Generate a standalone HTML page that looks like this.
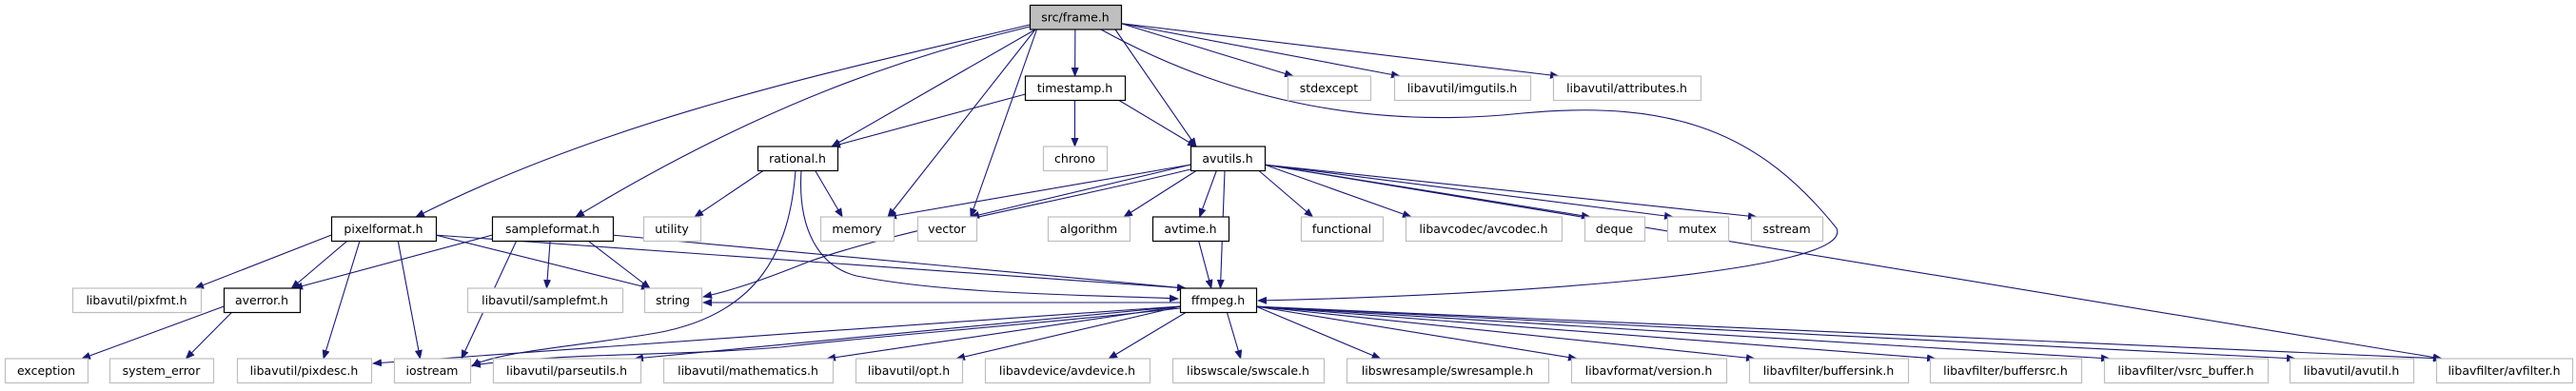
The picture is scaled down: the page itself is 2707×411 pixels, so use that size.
<!DOCTYPE html>
<html><head><meta charset="utf-8"><style>
html,body{margin:0;padding:0;background:#fff;width:2707px;height:411px;overflow:hidden}
svg text{font-family:"DejaVu Sans","Liberation Sans",sans-serif;font-size:12.5px;fill:#000}
</style></head><body>
<svg id="g" width="2707" height="411" xmlns="http://www.w3.org/2000/svg">
<defs><marker id="a" markerWidth="10" markerHeight="8" refX="9" refY="4" orient="auto" markerUnits="userSpaceOnUse"><path d="M0,0 L10,4 L0,8 z" fill="#191970"/></marker></defs>
<g id="e" fill="none" stroke="#191970" stroke-width="1.1"></g>
<g id="n"></g>
</svg>
<script>
var R=[5.5,80,154,228,303,377],H=25.5;
var N={
frame:["src/frame.h",1082,1178,0,2],
timestamp:["timestamp.h",1077,1182,1,1],
stdexcept:["stdexcept",1353,1440,1,0],
imgutils:["libavutil/imgutils.h",1465,1608,1,0],
attributes:["libavutil/attributes.h",1632,1787,1,0],
rational:["rational.h",796,880,2,1],
chrono:["chrono",1096,1163,2,0],
avutils:["avutils.h",1251,1329,2,1],
pixelformat:["pixelformat.h",348,458,3,1],
sampleformat:["sampleformat.h",517,644,3,1],
utility:["utility",676,736,3,0],
memory:["memory",862,939,3,0],
vector:["vector",964,1026,3,0],
algorithm:["algorithm",1101,1187,3,0],
avtime:["avtime.h",1211,1291,3,1],
functional:["functional",1367,1453,3,0],
avcodec:["libavcodec/avcodec.h",1477,1641,3,0],
deque:["deque",1665,1728,3,0],
mutex:["mutex",1752,1816,3,0],
sstream:["sstream",1840,1915,3,0],
pixfmt:["libavutil/pixfmt.h",76,211,4,0],
averror:["averror.h",235,315,4,1],
samplefmt:["libavutil/samplefmt.h",491,654,4,0],
string:["string",677,737,4,0],
ffmpeg:["ffmpeg.h",1240,1320,4,1],
exception:["exception",5,92,5,0],
system_error:["system_error",115,224,5,0],
pixdesc:["libavutil/pixdesc.h",249,390,5,0],
iostream:["iostream",414,494,5,0],
parseutils:["libavutil/parseutils.h",518,673,5,0],
mathematics:["libavutil/mathematics.h",697,875,5,0],
opt:["libavutil/opt.h",899,1011,5,0],
avdevice:["libavdevice/avdevice.h",1035,1208,5,0],
swscale:["libswscale/swscale.h",1232,1391,5,0],
swresample:["libswresample/swresample.h",1415,1627,5,0],
version:["libavformat/version.h",1651,1814,5,0],
buffersink:["libavfilter/buffersink.h",1838,2005,5,0],
buffersrc:["libavfilter/buffersrc.h",2028,2187,5,0],
vsrc:["libavfilter/vsrc_buffer.h",2211,2383,5,0],
avutil:["libavutil/avutil.h",2406,2536,5,0],
avfilter:["libavfilter/avfilter.h",2560,2703,5,0]};
var E=[["frame",["rational","memory","vector","timestamp","avutils","stdexcept","imgutils","attributes"]],
["timestamp",["rational","chrono","avutils"]],
["rational",["utility","memory"]],
["avutils",["memory","vector","algorithm","avtime","ffmpeg","functional","avcodec","deque","mutex","sstream","avfilter"]],
["avtime",["ffmpeg"]],
["pixelformat",["pixfmt","averror","pixdesc","iostream","string","ffmpeg"]],
["sampleformat",["averror","iostream","samplefmt","string","ffmpeg"]],
["averror",["exception","system_error"]],
["ffmpeg",["parseutils","mathematics","opt","avdevice","swscale","swresample","version","buffersink","buffersrc","vsrc","avutil","avfilter"]]];
var ns="http://www.w3.org/2000/svg",eg=document.getElementById("e"),ng=document.getElementById("n");
function P(d){var p=document.createElementNS(ns,"path");p.setAttribute("d",d);p.setAttribute("marker-end","url(#a)");eg.appendChild(p);}
function cl(v,a,b){return Math.max(a+6,Math.min(b-6,v));}
E.forEach(function(s){var S=N[s[0]];s[1].forEach(function(t){var T=N[t];
 var sc=(S[1]+S[2])/2,tc=(T[1]+T[2])/2;
 var dy=(R[T[3]]-R[S[3]]), dx=tc-sc;
 var sx,sy;
 if(Math.abs(dx)>dy*2.2 && Math.abs(dx)>(S[2]-S[1])){sx= dx<0?S[1]:S[2]; sy=R[S[3]]+H*0.75;}
 else {sx=cl(sc+dx*0.3,S[1],S[2]); sy=R[S[3]]+H;}
 var tx=cl(tc-(tc-sx)*0.35,T[1],T[2]);
 var ty=R[T[3]];
 P("M"+sx+","+sy+" L"+tx+","+ty);
});});
// special edges
P("M1082,26 C900,70 650,120 437,228");
P("M1082,28 C950,60 800,110 605,228");
P("M1157,31 C1300,110 1450,135 1600,119 C1760,104 1850,140 1930,240 C1950,285 1600,310 1322,316");
P("M836,179 C830,260 800,330 690,350 C600,365 520,370 496,385");
P("M842,179 C838,240 860,280 900,290 C1000,310 1150,310 1238,314");
P("M1251,178 C1100,215 950,240 850,275 C800,295 770,305 739,312");
P("M1240,318 C1050,318 880,318 739,318");
P("M1240,322 C1000,340 600,365 392,382");
P("M1240,324 C1100,340 900,355 820,365 C700,375 600,370 496,384");
for(var k in N){var d=N[k],y=R[d[3]];var r=document.createElementNS(ns,"rect");
 r.setAttribute("x",d[1]+0.5);r.setAttribute("y",y);r.setAttribute("width",d[2]-d[1]);r.setAttribute("height",H);
 r.setAttribute("fill",d[4]==2?"#bfbfbf":"#fff");r.setAttribute("stroke",d[4]?"#000":"#bfbfbf");r.setAttribute("stroke-width",1.2);
 ng.appendChild(r);var t=document.createElementNS(ns,"text");t.setAttribute("x",(d[1]+d[2])/2);t.setAttribute("y",y+17);
 t.setAttribute("text-anchor","middle");t.textContent=d[0];ng.appendChild(t);}
</script>
</body></html>
